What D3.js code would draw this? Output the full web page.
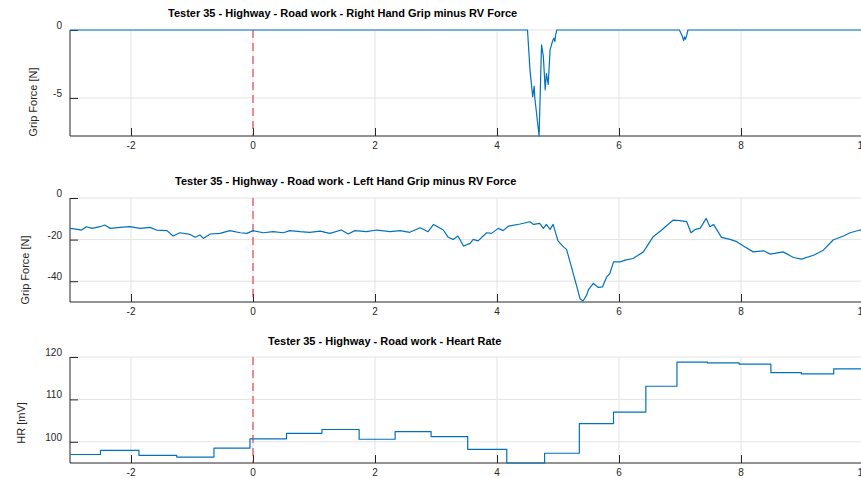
<!DOCTYPE html>
<html>
<head>
<meta charset="utf-8">
<script src="https://cdn.jsdelivr.net/npm/d3@7"></script>
<style>
  html, body { margin: 0; padding: 0; background: #fff; }
  svg { display: block; }
  text { font-family: "Liberation Sans", Arial, Helvetica, sans-serif; }
</style>
</head>
<body>
<svg id="chart" width="861" height="478"></svg>
<script>
// ---------------- DATA ----------------
const titles = [
  "Tester 35 - Highway - Road work - Right Hand Grip minus RV Force",
  "Tester 35 - Highway - Road work - Left Hand Grip minus RV Force",
  "Tester 35 - Highway - Road work - Heart Rate"
];
const yLabels = ["Grip Force [N]", "Grip Force [N]", "HR [mV]"];
const xTicks = [-2, 0, 2, 4, 6, 8, 10];
const yTicks1 = [-5, 0];
const yTicks2 = [-40, -20, 0];
const yTicks3 = [100, 110, 120];
const xDomain = [-3, 10];
const eventTime = 0;

// Right hand grip minus RV force
const rightT = [-3, 4.50, 4.54, 4.585, 4.61, 4.62, 4.65, 4.69, 4.73, 4.76, 4.79, 4.81, 4.84, 4.87, 4.90, 4.93, 4.95, 4.96, 4.98,
  6.99, 7.03, 7.06, 7.075, 7.09, 7.11, 7.13, 10];
const rightV = [0, 0, -2.9, -4.9, -4.15, -5.0, -6.2, -7.8, -1.1, -1.95, -4.4, -3.2, -4.0, -1.46, -0.98, -0.6, -0.85, -0.37, 0,
  0, -0.37, -0.78, -0.5, -0.68, -0.4, 0, 0];

// Left hand grip minus RV force
const leftT = [-3.0, -2.9, -2.81, -2.73, -2.64, -2.51, -2.43, -2.34, -2.18, -2.02, -1.85, -1.69, -1.58, -1.41, -1.31, -1.20,
  -1.03, -0.95, -0.87, -0.81, -0.70, -0.54, -0.38, -0.21, -0.10, 0.0, 0.17, 0.33, 0.5, 0.6, 0.77, 0.93, 1.10, 1.26, 1.45,
  1.56, 1.67, 1.86, 2.03, 2.25, 2.41, 2.57, 2.74, 2.87, 2.96, 3.12, 3.20, 3.28, 3.36, 3.45, 3.56, 3.61, 3.69, 3.83, 3.91,
  4.02, 4.10, 4.19, 4.38, 4.54, 4.60, 4.70, 4.76, 4.81, 4.87, 4.92, 5.0, 5.09, 5.14, 5.22, 5.31, 5.36, 5.41, 5.47, 5.50,
  5.58, 5.66, 5.73, 5.80, 5.85, 5.91, 6.02, 6.10, 6.23, 6.40, 6.56, 6.70, 6.76, 6.89, 7.0, 7.11, 7.18, 7.25, 7.33, 7.43,
  7.49, 7.55, 7.68, 7.82, 7.93, 8.04, 8.20, 8.37, 8.48, 8.69, 8.86, 8.99, 9.19, 9.35, 9.51, 9.68, 9.79, 9.95, 10.0];
const leftV = [-14.6, -15.0, -15.4, -13.8, -14.6, -13.8, -13.0, -14.6, -14.1, -13.8, -14.6, -14.1, -15.4, -15.7, -18.3, -16.7,
  -17.5, -18.9, -17.8, -19.4, -17.3, -17.0, -15.7, -16.7, -17.0, -15.7, -16.7, -16.2, -16.7, -15.7, -16.2, -16.5, -15.9, -17.0, -15.4,
  -17.3, -15.7, -16.2, -15.4, -16.2, -15.7, -16.5, -14.3, -16.2, -12.7, -15.4, -18.9, -19.9, -18.3, -23.1, -21.8, -19.9, -20.6, -16.7, -17.0,
  -14.6, -15.7, -13.5, -12.5, -11.4, -12.7, -12.2, -14.6, -12.7, -15.1, -12.7, -20.6, -23.5, -24.7, -33.1, -42.7, -48.4, -49.5, -46.7, -44.0,
  -41.1, -43.0, -42.7, -37.9, -36.3, -30.7, -30.7, -29.9, -29.1, -25.9, -18.6, -15.4, -13.8, -10.6, -10.9, -11.4, -16.7, -15.1, -14.6, -9.8,
  -13.8, -12.7, -18.9, -19.9, -21.0, -23.1, -25.9, -25.4, -27.0, -25.9, -28.6, -29.4, -27.5, -25.1, -20.2, -18.3, -16.7, -15.4, -15.4];

// Heart rate (step levels, each value holds from its time until the next)
const hrT = [-3, -2.50, -1.87, -1.25, -0.64, -0.05, 0.55, 1.13, 1.74, 2.33, 2.92, 3.52, 4.16, 4.78, 5.35, 5.91, 6.44, 6.95, 7.45, 7.97, 8.49, 8.99, 9.52, 10];
const hrV = [97.0, 98.0, 96.8, 96.4, 98.5, 100.7, 102.0, 102.9, 100.6, 102.4, 101.2, 98.2, 95.0, 97.3, 104.3, 107.0, 113.1, 118.8, 118.6, 118.3, 116.3, 116.0, 117.2, 117.2];

// ---------------- LAYOUT ----------------
const svg = d3.select("#chart");
const X0 = 70, X1 = 863;
const panels = [
  { top: 30, bottom: 136, domain: [-7.8, 0], ticks: yTicks1, t: rightT, v: rightV, step: false,
    title: titles[0], titleX: 168, titleY: 17, yLabel: yLabels[0], yLabelX: 37, yLabelY: 102 },
  { top: 198, bottom: 302, domain: [-50, 0], ticks: yTicks2, t: leftT, v: leftV, step: false,
    title: titles[1], titleX: 175, titleY: 185, yLabel: yLabels[1], yLabelX: 29, yLabelY: 270 },
  { top: 357, bottom: 463, domain: [95.0, 120], ticks: yTicks3, t: hrT, v: hrV, step: true,
    title: titles[2], titleX: 268, titleY: 345, yLabel: yLabels[2], yLabelX: 25, yLabelY: 423 }
];

const x = d3.scaleLinear().domain(xDomain).range([X0, X1]);
const textColor = "#262626";
const gridColor = "#e3e3e3";
const lineColor = "#0072BD";

panels.forEach((p, i) => {
  const y = d3.scaleLinear().domain(p.domain).range([p.bottom, p.top]);
  const g = svg.append("g");

  const clipId = "clip" + i;
  svg.append("clipPath").attr("id", clipId)
    .append("rect").attr("x", X0).attr("y", p.top - 1).attr("width", X1 - X0).attr("height", p.bottom - p.top + 2);

  // grid
  g.append("g").selectAll("line").data(xTicks).join("line")
    .attr("x1", d => x(d)).attr("x2", d => x(d))
    .attr("y1", p.top).attr("y2", p.bottom)
    .attr("stroke", gridColor).attr("stroke-width", 1);
  g.append("g").selectAll("line").data(p.ticks).join("line")
    .attr("x1", X0).attr("x2", X1)
    .attr("y1", d => y(d)).attr("y2", d => y(d))
    .attr("stroke", gridColor).attr("stroke-width", 1);

  // axes (inward ticks)
  const xAxis = d3.axisTop(x).tickValues(xTicks).tickSize(8).tickFormat("");
  const gx = g.append("g").attr("transform", `translate(0,${p.bottom})`).call(xAxis);
  gx.select(".domain").remove();
  gx.selectAll(".tick line").attr("stroke", textColor);

  const yAxis = d3.axisRight(y).tickValues(p.ticks).tickSize(8).tickFormat("");
  const gy = g.append("g").attr("transform", `translate(${X0},0)`).call(yAxis);
  gy.select(".domain").remove();
  gy.selectAll(".tick line").attr("stroke", textColor);

  // axis lines
  g.append("line").attr("x1", X0).attr("x2", X1).attr("y1", p.bottom).attr("y2", p.bottom)
    .attr("stroke", textColor).attr("stroke-width", 1);
  g.append("line").attr("x1", X0).attr("x2", X0).attr("y1", p.top).attr("y2", p.bottom)
    .attr("stroke", textColor).attr("stroke-width", 1);

  // tick labels (ASCII hyphen minus, as in the reference)
  g.append("g").selectAll("text").data(xTicks).join("text")
    .attr("x", d => x(d)).attr("y", p.bottom + 13)
    .attr("text-anchor", "middle").attr("font-size", 10).attr("fill", textColor)
    .text(d => String(d));
  g.append("g").selectAll("text").data(p.ticks).join("text")
    .attr("x", X0 - 8).attr("y", d => y(d) - 1)
    .attr("text-anchor", "end").attr("font-size", 10).attr("fill", textColor)
    .text(d => String(d));

  // event line
  g.append("line").attr("x1", x(eventTime)).attr("x2", x(eventTime))
    .attr("y1", p.top).attr("y2", p.bottom)
    .attr("stroke", "#e02a2f").attr("stroke-width", 1).attr("stroke-dasharray", "8,5");

  // data line
  const pts = p.t.map((t, k) => [t, p.v[k]]);
  const line = d3.line().x(d => x(d[0])).y(d => y(d[1]))
    .curve(p.step ? d3.curveStepAfter : d3.curveLinear);
  g.append("path").attr("clip-path", `url(#${clipId})`)
    .datum(pts).attr("d", line)
    .attr("fill", "none").attr("stroke", lineColor).attr("stroke-width", 1.2)
    .attr("stroke-linejoin", "round");

  // title
  g.append("text").attr("x", p.titleX).attr("y", p.titleY)
    .attr("font-size", 11).attr("font-weight", "bold").attr("fill", "#000")
    .text(p.title);

  // y label
  g.append("text").attr("transform", `translate(${p.yLabelX},${p.yLabelY}) rotate(-90)`)
    .attr("text-anchor", "middle").attr("font-size", 11).attr("fill", textColor)
    .text(p.yLabel);
});
</script>
</body>
</html>
